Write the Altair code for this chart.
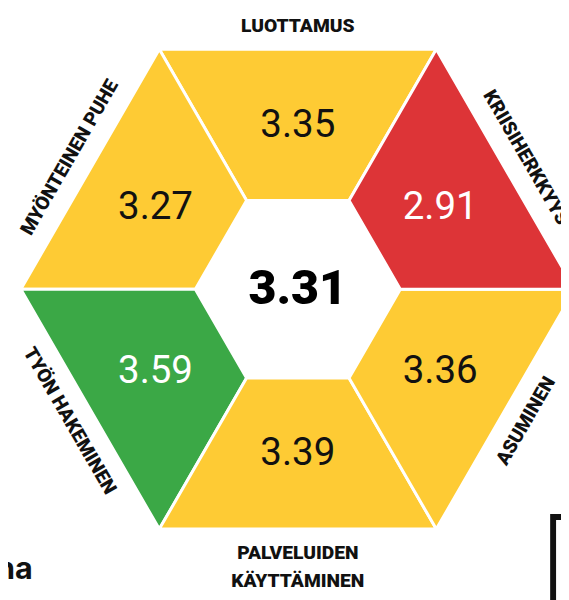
import math
import altair as alt
import pandas as pd

# ---- data ----
categories = ["LUOTTAMUS", "MYÖNTEINEN PUHE", "TYÖN HAKEMINEN",
              "PALVELUIDEN KÄYTTÄMINEN", "ASUMINEN", "KRIISIHERKKYYS"]
label_lines = [["LUOTTAMUS"], ["MYÖNTEINEN PUHE"], ["TYÖN HAKEMINEN"],
               ["PALVELUIDEN", "KÄYTTÄMINEN"], ["ASUMINEN"], ["KRIISIHERKKYYS"]]
values = [3.35, 3.27, 3.59, 3.39, 3.36, 2.91]
overall = 3.31
mid_angles = [90, 150, 210, 270, 330, 30]   # direction of each segment (deg)

# ---- styling / geometry ----
YELLOW, RED, GREEN = "#fecb34", "#dd3437", "#3ba846"
def level_color(v):
    if v < 3.0:
        return RED
    if v >= 3.5:
        return GREEN
    return YELLOW
def text_color(v):
    return "#111111" if level_color(v) == YELLOW else "#ffffff"

FONT = "Roboto"
R_OUT, R_IN = 1.0, 0.37
VAL_R = (R_OUT + R_IN) / 2 * math.cos(math.radians(30))
LAB_R = R_OUT * math.cos(math.radians(30)) + 0.085
LINE_STEP = 0.103

W, H = 561, 592
PX = 281.0             # pixels per unit
CX, CY = 294.0, 281.0  # hexagon centre in view pixels
xdom = [-CX / PX, (W - CX) / PX]
ydom = [-(H - CY) / PX, CY / PX]
xs = alt.Scale(domain=xdom, nice=False, zero=False)
ys = alt.Scale(domain=ydom, nice=False, zero=False)

def pt(r, a):
    return r * math.cos(math.radians(a)), r * math.sin(math.radians(a))

def XY():
    return dict(x=alt.X("x:Q", scale=xs, axis=None), y=alt.Y("y:Q", scale=ys, axis=None))

layers = []
for cat, v, a in zip(categories, values, mid_angles):
    verts = [pt(R_OUT, a - 30), pt(R_OUT, a + 30), pt(R_IN, a + 30), pt(R_IN, a - 30)]
    verts.append(verts[0])
    df = pd.DataFrame({"o": range(len(verts)),
                       "x": [p[0] for p in verts], "y": [p[1] for p in verts]})
    layers.append(
        alt.Chart(df).mark_line(fill=level_color(v), stroke="white", strokeWidth=3,
                                strokeJoin="miter")
        .encode(order=alt.Order("o:Q"), **XY())
    )

# value labels
vrows = []
for cat, v, a in zip(categories, values, mid_angles):
    x, y = pt(VAL_R, a)
    vrows.append({"x": x, "y": y, "t": f"{v:.2f}", "c": text_color(v)})
vdf = pd.DataFrame(vrows)
layers.append(
    alt.Chart(vdf).mark_text(font=FONT, fontWeight=400, fontSize=39,
                             baseline="middle", align="center")
    .encode(text="t:N", color=alt.Color("c:N", scale=None), **XY())
)

# centre value
cdf = pd.DataFrame({"x": [0.0], "y": [0.0], "t": [f"{overall:.2f}"]})
layers.append(
    alt.Chart(cdf).mark_text(font=FONT, fontWeight=900, fontSize=49,
                             baseline="middle", align="center", color="#000000")
    .encode(text="t:N", **XY())
)

# category labels
lrows = []
for lines, a in zip(label_lines, mid_angles):
    t = (90 - a) % 360
    if 90 < t < 270:
        t = (t - 180) % 360
    for k, line in enumerate(lines):
        x, y = pt(LAB_R + k * LINE_STEP, a)
        lrows.append({"x": x, "y": y, "t": line, "rot": t})
ldf = pd.DataFrame(lrows)
layers.append(
    alt.Chart(ldf).mark_text(font=FONT, fontWeight=900, fontSize=19.5,
                             baseline="middle", align="center", color="#111111")
    .encode(text="t:N", angle=alt.Angle("rot:Q", scale=None), **XY())
)

# decorations cut off at the page edges
deco_df = pd.DataFrame({"t": ["na"]})
layers.append(
    alt.Chart(deco_df).mark_text(font="Inter", fontWeight="bold", fontSize=31,
                                 align="right", baseline="alphabetic", color="#111111")
    .encode(x=alt.value(25), y=alt.value(575), text="t:N")
)
layers.append(
    alt.Chart(deco_df).mark_rect(fill="white", stroke="#111111", strokeWidth=6)
    .encode(x=alt.value(553), x2=alt.value(640), y=alt.value(512), y2=alt.value(700))
)

chart = (alt.layer(*layers)
         .properties(width=W, height=H, padding=0, autosize="none", background="white")
         .configure_view(stroke=None))

chart.save("out.html", embed_options={"renderer": "svg", "actions": False})
